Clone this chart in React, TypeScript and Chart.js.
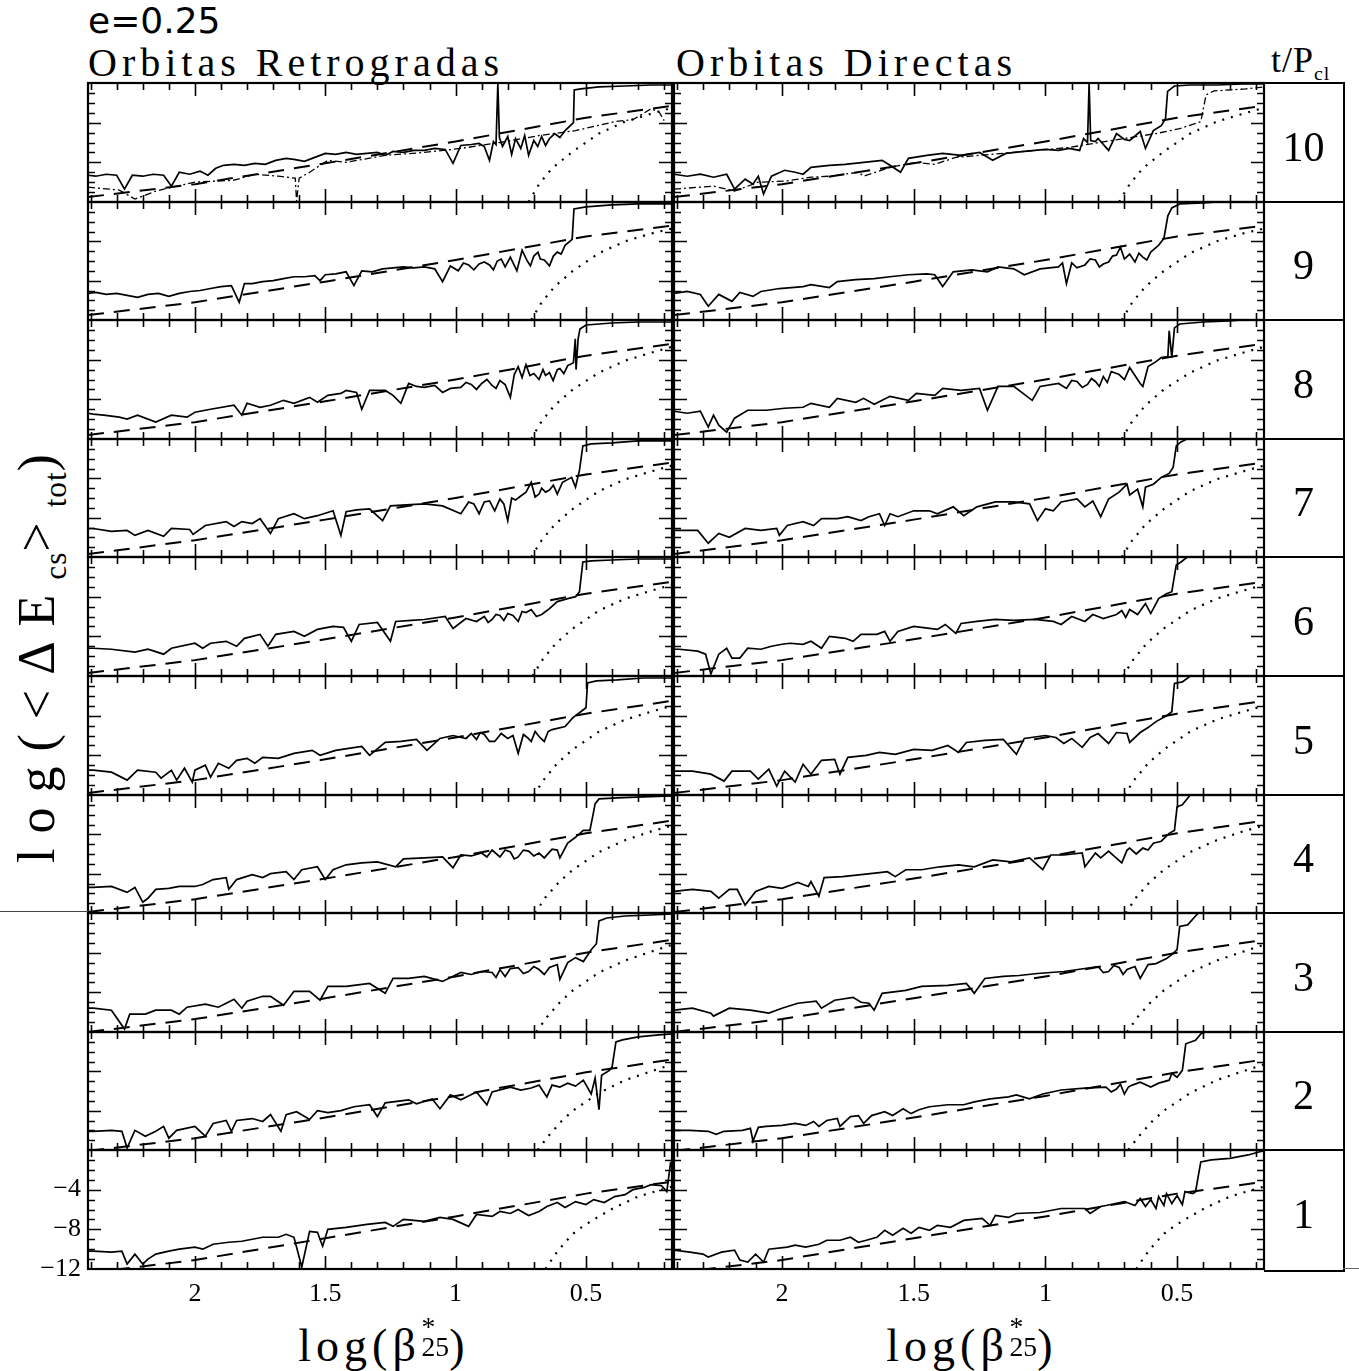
import React, { useEffect, useRef } from "react";
import { Chart, registerables } from "chart.js";

Chart.register(...registerables);

type Pt = [number, number];

// ---------- axes ----------
const X_RANGE: [number, number] = [0.17, 2.41];
const Y_RANGE: [number, number] = [-12, 0];
const X_TICK_LABELS = [2, 1.5, 1, 0.5];
const Y_TICK_LABELS = [-4, -8, -12];
const ROW_LABELS = ["10", "9", "8", "7", "6", "5", "4", "3", "2", "1"];

// ---------- dashed reference curve (per row, t/P = 10 ... 1) ----------
const DASH_X = [2.41, 2.0, 1.5, 1.0, 0.5, 0.17];
const DASH_Y: number[][] = [
  [-11.5, -10.2, -8.1, -5.9, -3.5, -2.3],
  [-11.5, -10.2, -8.1, -5.9, -3.5, -2.4],
  [-11.6, -10.3, -8.2, -6.0, -3.6, -2.4],
  [-11.7, -10.3, -8.2, -6.0, -3.6, -2.4],
  [-11.7, -10.4, -8.3, -6.1, -3.7, -2.5],
  [-11.8, -10.5, -8.4, -6.2, -3.8, -2.5],
  [-11.9, -10.6, -8.5, -6.3, -3.9, -2.6],
  [-12.0, -10.7, -8.6, -6.4, -4.0, -2.7],
  [-12.1, -10.8, -8.7, -6.5, -4.1, -2.8],
  [-12.4, -11.1, -8.9, -6.7, -4.4, -3.2],
];

// ---------- dotted curve (per row) ----------
const DOTTED: Pt[][] = [
  [[0.72, -12], [0.68, -10.2], [0.63, -8.6], [0.55, -6.9], [0.45, -5.1], [0.35, -3.9], [0.25, -3.1], [0.17, -2.5]],
  [[0.71, -12], [0.67, -10.2], [0.62, -8.6], [0.55, -7.0], [0.45, -5.2], [0.35, -4.0], [0.25, -3.2], [0.17, -2.7]],
  [[0.71, -12], [0.67, -10.2], [0.62, -8.6], [0.55, -7.0], [0.45, -5.3], [0.35, -4.1], [0.25, -3.3], [0.17, -2.7]],
  [[0.71, -12], [0.67, -10.3], [0.62, -8.7], [0.55, -7.1], [0.45, -5.3], [0.35, -4.1], [0.25, -3.3], [0.17, -2.7]],
  [[0.705, -12], [0.665, -10.3], [0.615, -8.7], [0.55, -7.2], [0.45, -5.4], [0.35, -4.2], [0.25, -3.4], [0.17, -2.8]],
  [[0.70, -12], [0.66, -10.4], [0.61, -8.8], [0.55, -7.4], [0.45, -5.6], [0.35, -4.4], [0.25, -3.6], [0.17, -3.0]],
  [[0.695, -12], [0.655, -10.4], [0.605, -8.9], [0.55, -7.6], [0.45, -5.8], [0.35, -4.6], [0.25, -3.7], [0.17, -3.1]],
  [[0.69, -12], [0.65, -10.5], [0.60, -9.0], [0.55, -7.8], [0.45, -6.0], [0.35, -4.8], [0.25, -3.9], [0.17, -3.2]],
  [[0.685, -12], [0.645, -10.6], [0.595, -9.1], [0.55, -8.0], [0.45, -6.2], [0.35, -4.9], [0.25, -4.0], [0.17, -3.3]],
  [[0.655, -12], [0.62, -10.6], [0.58, -9.3], [0.54, -8.2], [0.47, -7.0], [0.39, -5.8], [0.30, -4.7], [0.25, -4.3], [0.17, -3.7]],
];

// ---------- Orbitas Retrogradas (solid) ----------
const R10: Pt[] = [[2.41,-9.3],[2.38,-9.4],[2.34,-9.2],[2.30,-9.3],[2.27,-10.7],[2.24,-9.3],[2.20,-9.4],[2.16,-9.2],[2.12,-9.3],[2.09,-10.4],[2.06,-9.0],[2.02,-9.2],[1.98,-8.9],[1.95,-9.3],[1.92,-8.6],[1.89,-8.3],[1.85,-8.2],[1.81,-8.3],[1.77,-8.1],[1.73,-8.2],[1.69,-7.8],[1.65,-7.6],[1.62,-7.7],[1.58,-7.9],[1.54,-7.5],[1.50,-7.1],[1.46,-7.2],[1.42,-7.0],[1.38,-7.2],[1.34,-7.1],[1.30,-7.0],[1.27,-7.3],[1.24,-6.9],[1.20,-7.0],[1.16,-6.8],[1.12,-6.8],[1.08,-6.6],[1.04,-6.7],[1.01,-8.1],[0.98,-6.3],[0.94,-6.2],[0.91,-6.1],[0.89,-6.4],[0.87,-7.8],[0.855,-5.9],[0.845,-6.2],[0.838,0],[0.832,-5.5],[0.82,-6.4],[0.80,-5.4],[0.785,-7.2],[0.77,-5.6],[0.75,-6.6],[0.735,-5.3],[0.72,-7.3],[0.70,-5.8],[0.685,-6.4],[0.67,-5.4],[0.655,-6.3],[0.64,-5.6],[0.62,-5.1],[0.60,-5.5],[0.58,-4.8],[0.56,-4.3],[0.548,-4.0],[0.545,-0.7],[0.52,-0.6],[0.45,-0.4],[0.35,-0.3],[0.25,-0.2],[0.17,-0.2]];
const R10B: Pt[] = [[2.41,-10.5],[2.29,-10.8],[2.23,-11.7],[2.15,-10.9],[2.07,-10.4],[2.0,-10.0],[1.85,-9.8],[1.77,-9.2],[1.68,-9.4],[1.615,-9.6],[1.61,-11.9],[1.60,-9.6],[1.56,-9.0],[1.49,-7.8],[1.42,-8.0],[1.27,-7.3],[1.12,-7.0],[0.98,-6.6],[0.83,-6.0],[0.68,-5.3],[0.54,-4.8],[0.39,-3.9],[0.32,-3.7],[0.25,-2.6],[0.22,-2.9],[0.20,-3.8]];
const R9: Pt[] = [[2.41,-9.3],[2.38,-9.2],[2.34,-9.4],[2.30,-9.3],[2.26,-9.5],[2.22,-9.7],[2.18,-9.4],[2.14,-9.3],[2.10,-9.6],[2.06,-9.3],[2.02,-9.1],[1.98,-9.0],[1.94,-8.8],[1.90,-8.6],[1.86,-8.5],[1.83,-10.2],[1.81,-8.3],[1.78,-8.3],[1.74,-8.1],[1.70,-8.0],[1.66,-7.8],[1.62,-7.6],[1.58,-7.6],[1.54,-7.5],[1.52,-8.0],[1.50,-7.4],[1.46,-7.3],[1.42,-7.1],[1.39,-8.5],[1.36,-7.0],[1.32,-7.1],[1.28,-6.8],[1.24,-6.7],[1.20,-6.6],[1.16,-6.7],[1.12,-6.6],[1.08,-6.8],[1.05,-8.1],[1.02,-6.5],[0.99,-7.0],[0.97,-6.2],[0.95,-6.4],[0.93,-6.9],[0.91,-6.3],[0.89,-6.1],[0.87,-6.4],[0.855,-6.9],[0.84,-6.0],[0.825,-5.8],[0.81,-6.6],[0.79,-5.6],[0.765,-7.0],[0.745,-4.9],[0.725,-6.0],[0.713,-6.5],[0.70,-5.5],[0.684,-5.1],[0.675,-5.8],[0.66,-5.9],[0.64,-6.5],[0.625,-5.5],[0.61,-5.1],[0.595,-5.3],[0.58,-4.4],[0.553,-3.8],[0.546,-0.7],[0.50,-0.5],[0.40,-0.3],[0.30,-0.2],[0.17,-0.2]];
const R8: Pt[] = [[2.41,-9.4],[2.39,-9.5],[2.35,-9.6],[2.29,-9.8],[2.26,-10.0],[2.22,-9.6],[2.15,-10.3],[2.09,-9.6],[2.03,-9.8],[2.0,-9.3],[1.94,-9.0],[1.85,-8.6],[1.82,-9.6],[1.80,-8.4],[1.75,-8.8],[1.71,-8.6],[1.66,-8.1],[1.62,-8.4],[1.56,-7.8],[1.53,-8.3],[1.49,-7.6],[1.44,-7.4],[1.42,-7.1],[1.38,-7.3],[1.36,-9.0],[1.33,-7.1],[1.27,-7.1],[1.24,-7.6],[1.21,-8.4],[1.18,-6.4],[1.15,-6.7],[1.12,-6.8],[1.08,-6.6],[1.05,-7.3],[1.02,-6.9],[0.98,-6.8],[0.96,-6.3],[0.94,-6.5],[0.92,-7.0],[0.90,-6.4],[0.88,-6.0],[0.86,-6.6],[0.845,-6.9],[0.83,-6.1],[0.81,-6.5],[0.79,-7.8],[0.775,-5.5],[0.76,-4.7],[0.745,-5.8],[0.73,-4.5],[0.715,-5.6],[0.70,-5.4],[0.68,-6.0],[0.665,-5.0],[0.655,-5.6],[0.64,-5.3],[0.626,-6.1],[0.61,-5.0],[0.60,-4.9],[0.585,-5.4],[0.57,-4.6],[0.548,-4.3],[0.541,-1.9],[0.538,-5.0],[0.53,-1.9],[0.523,-0.9],[0.50,-0.5],[0.40,-0.3],[0.30,-0.2],[0.17,-0.2]];
const R7: Pt[] = [[2.41,-9.1],[2.39,-9.1],[2.32,-9.4],[2.26,-9.3],[2.23,-9.8],[2.18,-9.3],[2.12,-9.9],[2.09,-9.1],[2.02,-9.2],[2.007,-9.7],[1.96,-8.8],[1.88,-8.4],[1.85,-8.9],[1.82,-8.4],[1.78,-8.6],[1.75,-8.1],[1.71,-9.6],[1.68,-8.1],[1.62,-7.6],[1.58,-8.1],[1.53,-7.8],[1.47,-7.3],[1.44,-9.8],[1.42,-7.4],[1.38,-7.2],[1.33,-7.1],[1.28,-8.3],[1.25,-6.8],[1.19,-6.7],[1.12,-6.6],[1.05,-6.8],[0.98,-7.6],[0.95,-6.4],[0.93,-6.6],[0.91,-7.6],[0.89,-6.4],[0.87,-6.3],[0.85,-7.3],[0.83,-6.1],[0.815,-6.6],[0.80,-8.3],[0.785,-6.0],[0.77,-6.2],[0.75,-5.8],[0.73,-5.4],[0.71,-4.4],[0.695,-5.9],[0.68,-5.6],[0.67,-5.0],[0.655,-5.4],[0.64,-5.2],[0.625,-4.7],[0.61,-5.6],[0.59,-4.4],[0.555,-3.9],[0.54,-4.9],[0.525,-3.2],[0.512,-0.7],[0.48,-0.5],[0.40,-0.4],[0.30,-0.2],[0.17,-0.2]];
const R6: Pt[] = [[2.41,-9.2],[2.39,-9.2],[2.32,-9.3],[2.23,-9.6],[2.18,-9.3],[2.12,-9.8],[2.09,-9.2],[2.0,-8.7],[1.97,-9.2],[1.94,-8.7],[1.88,-8.5],[1.84,-9.0],[1.81,-8.2],[1.75,-7.8],[1.72,-9.0],[1.69,-7.8],[1.62,-7.5],[1.58,-8.0],[1.53,-7.3],[1.47,-7.0],[1.43,-7.1],[1.40,-8.5],[1.37,-6.8],[1.30,-6.6],[1.25,-8.5],[1.23,-6.5],[1.17,-6.4],[1.12,-6.3],[1.04,-6.0],[1.01,-7.2],[0.96,-6.2],[0.92,-6.5],[0.89,-6.0],[0.875,-6.6],[0.86,-6.3],[0.845,-5.8],[0.83,-5.9],[0.815,-6.4],[0.80,-5.7],[0.78,-5.9],[0.76,-6.5],[0.745,-5.5],[0.73,-5.6],[0.71,-5.3],[0.69,-6.0],[0.67,-5.8],[0.64,-5.2],[0.61,-4.5],[0.57,-4.2],[0.54,-4.0],[0.525,-3.5],[0.512,-0.5],[0.48,-0.4],[0.40,-0.3],[0.30,-0.2],[0.17,-0.2]];
const R5: Pt[] = [[2.41,-9.5],[2.39,-9.5],[2.32,-9.7],[2.26,-10.5],[2.22,-9.5],[2.15,-9.7],[2.13,-10.3],[2.09,-9.5],[2.07,-10.5],[2.04,-9.3],[2.01,-10.7],[2.0,-9.5],[1.96,-9.0],[1.94,-10.2],[1.91,-8.8],[1.87,-9.3],[1.84,-8.5],[1.80,-8.3],[1.77,-8.8],[1.74,-8.2],[1.68,-8.3],[1.62,-7.8],[1.55,-7.5],[1.52,-8.0],[1.46,-7.5],[1.41,-7.3],[1.36,-7.1],[1.33,-8.0],[1.27,-6.7],[1.21,-6.6],[1.15,-6.4],[1.11,-7.5],[1.06,-6.3],[1.01,-6.0],[0.96,-6.3],[0.94,-5.8],[0.92,-6.4],[0.905,-5.7],[0.89,-5.9],[0.87,-6.6],[0.85,-6.6],[0.825,-5.8],[0.80,-6.3],[0.78,-6.0],[0.76,-7.8],[0.74,-5.9],[0.725,-6.2],[0.71,-6.6],[0.695,-5.6],[0.68,-6.1],[0.66,-6.6],[0.645,-5.6],[0.63,-5.4],[0.58,-5.1],[0.55,-4.2],[0.52,-3.6],[0.50,-3.2],[0.494,-0.7],[0.46,-0.5],[0.38,-0.4],[0.28,-0.2],[0.17,-0.2]];
const R4: Pt[] = [[2.41,-9.4],[2.39,-9.4],[2.32,-9.3],[2.26,-9.9],[2.23,-9.4],[2.20,-10.9],[2.18,-10.5],[2.15,-9.6],[2.10,-9.5],[2.06,-9.3],[2.0,-9.3],[1.97,-9.1],[1.93,-8.6],[1.88,-8.4],[1.87,-9.6],[1.84,-8.6],[1.78,-8.1],[1.74,-8.4],[1.71,-8.0],[1.65,-7.8],[1.62,-8.6],[1.59,-7.6],[1.53,-7.3],[1.50,-8.6],[1.47,-7.6],[1.42,-7.1],[1.36,-6.9],[1.30,-6.8],[1.23,-7.3],[1.20,-6.5],[1.12,-6.4],[1.05,-6.3],[1.01,-7.4],[0.98,-6.1],[0.94,-6.2],[0.90,-5.9],[0.88,-6.3],[0.86,-5.6],[0.83,-6.3],[0.81,-5.6],[0.79,-5.8],[0.775,-6.5],[0.76,-6.3],[0.74,-5.6],[0.72,-5.7],[0.70,-6.2],[0.68,-5.9],[0.66,-6.4],[0.63,-5.5],[0.61,-5.6],[0.60,-6.4],[0.57,-4.9],[0.54,-4.3],[0.51,-3.6],[0.485,-3.6],[0.472,-1.9],[0.465,-0.9],[0.45,-0.4],[0.38,-0.3],[0.28,-0.2],[0.17,-0.1]];
const R3: Pt[] = [[2.41,-9.6],[2.39,-9.6],[2.32,-9.8],[2.27,-11.7],[2.25,-10.2],[2.19,-10.2],[2.15,-9.8],[2.09,-9.8],[2.06,-10.2],[2.03,-9.5],[1.96,-9.2],[1.91,-9.5],[1.88,-9.1],[1.85,-8.7],[1.82,-9.6],[1.80,-8.9],[1.74,-8.4],[1.71,-8.4],[1.66,-9.3],[1.62,-7.9],[1.56,-7.9],[1.52,-8.8],[1.49,-7.4],[1.42,-7.4],[1.33,-7.1],[1.27,-8.1],[1.24,-6.6],[1.18,-6.6],[1.12,-6.4],[1.05,-6.9],[0.98,-6.0],[0.94,-6.2],[0.90,-5.9],[0.86,-6.0],[0.845,-6.5],[0.83,-5.7],[0.81,-6.4],[0.79,-5.6],[0.76,-5.5],[0.74,-6.1],[0.72,-5.9],[0.70,-5.4],[0.68,-5.7],[0.66,-6.2],[0.64,-5.5],[0.61,-5.2],[0.60,-6.7],[0.57,-5.0],[0.54,-4.5],[0.51,-4.9],[0.48,-3.7],[0.46,-3.1],[0.45,-0.8],[0.42,-0.5],[0.35,-0.3],[0.25,-0.2],[0.17,-0.1]];
const R2: Pt[] = [[2.41,-10.1],[2.39,-10.1],[2.32,-10.0],[2.28,-10.1],[2.26,-11.8],[2.23,-10.0],[2.19,-10.6],[2.15,-10.1],[2.12,-9.6],[2.10,-10.8],[2.07,-10.0],[2.0,-9.6],[1.96,-10.6],[1.93,-9.3],[1.88,-9.0],[1.86,-10.1],[1.84,-9.0],[1.78,-8.8],[1.74,-9.1],[1.71,-8.4],[1.67,-10.1],[1.65,-8.4],[1.61,-8.1],[1.56,-8.9],[1.53,-8.0],[1.49,-8.2],[1.44,-8.0],[1.39,-7.6],[1.33,-7.4],[1.30,-8.6],[1.27,-7.2],[1.18,-6.9],[1.15,-7.3],[1.09,-6.8],[1.06,-7.8],[1.02,-6.4],[0.98,-6.9],[0.92,-6.1],[0.88,-7.4],[0.86,-6.1],[0.79,-5.6],[0.75,-5.9],[0.71,-5.7],[0.68,-5.4],[0.65,-6.6],[0.63,-5.4],[0.60,-5.6],[0.57,-5.2],[0.54,-5.5],[0.51,-4.9],[0.48,-6.3],[0.465,-4.7],[0.45,-7.9],[0.44,-4.4],[0.41,-3.9],[0.40,-3.6],[0.385,-1.0],[0.36,-0.8],[0.30,-0.5],[0.22,-0.3],[0.17,-0.2]];
const R1: Pt[] = [[2.41,-10.2],[2.39,-10.2],[2.32,-10.3],[2.28,-10.2],[2.26,-11.5],[2.23,-10.5],[2.20,-11.5],[2.18,-11.0],[2.15,-10.5],[2.10,-10.2],[2.06,-10.0],[2.0,-9.8],[1.97,-10.0],[1.93,-9.5],[1.87,-9.3],[1.82,-9.2],[1.78,-9.0],[1.74,-8.8],[1.68,-8.8],[1.65,-8.5],[1.62,-8.8],[1.59,-11.8],[1.56,-8.2],[1.53,-8.3],[1.51,-9.7],[1.49,-8.0],[1.42,-7.8],[1.34,-7.5],[1.27,-7.3],[1.24,-7.7],[1.20,-7.0],[1.12,-7.2],[1.06,-6.8],[1.01,-7.0],[0.95,-7.7],[0.92,-6.5],[0.86,-6.7],[0.83,-6.2],[0.79,-6.4],[0.76,-6.0],[0.72,-6.6],[0.68,-6.2],[0.65,-5.7],[0.61,-5.3],[0.58,-5.8],[0.54,-5.2],[0.50,-5.5],[0.47,-5.0],[0.43,-5.3],[0.39,-4.7],[0.35,-4.5],[0.32,-4.0],[0.28,-3.8],[0.25,-3.5],[0.21,-3.6],[0.19,-4.2],[0.175,-1.2]];

// ---------- Orbitas Directas (solid) ----------
const D10: Pt[] = [[2.41,-9.2],[2.36,-9.4],[2.31,-9.2],[2.26,-9.5],[2.21,-9.2],[2.18,-10.7],[2.14,-9.7],[2.11,-10.2],[2.09,-9.4],[2.07,-11.2],[2.04,-9.4],[1.99,-8.8],[1.95,-9.0],[1.92,-9.2],[1.89,-8.5],[1.82,-8.3],[1.76,-8.2],[1.69,-8.0],[1.62,-7.8],[1.59,-8.3],[1.55,-9.0],[1.52,-7.6],[1.45,-7.3],[1.39,-7.1],[1.32,-7.3],[1.25,-7.0],[1.20,-7.8],[1.15,-7.1],[1.08,-6.9],[1.00,-6.7],[0.95,-6.8],[0.91,-6.6],[0.87,-6.8],[0.855,-5.6],[0.84,-6.0],[0.834,0],[0.828,-5.8],[0.81,-5.9],[0.80,-5.6],[0.76,-6.8],[0.73,-5.1],[0.70,-5.7],[0.68,-5.8],[0.64,-4.9],[0.62,-6.6],[0.59,-4.8],[0.56,-4.3],[0.544,-3.6],[0.536,-0.85],[0.51,-0.3],[0.45,-0.2],[0.35,-0.2],[0.25,-0.1],[0.17,-0.1]];
const D10B: Pt[] = [[2.41,-10.7],[2.26,-10.4],[2.18,-10.9],[2.09,-10.0],[1.99,-9.9],[1.89,-9.5],[1.82,-9.4],[1.71,-9.0],[1.69,-9.4],[1.59,-8.5],[1.49,-8.0],[1.42,-8.2],[1.34,-7.5],[1.25,-7.3],[1.08,-6.9],[0.91,-6.5],[0.75,-5.8],[0.58,-5.1],[0.49,-4.6],[0.41,-3.9],[0.39,-1.2],[0.36,-0.8],[0.24,-0.6],[0.17,-0.4]];
const D9: Pt[] = [[2.41,-9.3],[2.36,-9.1],[2.31,-9.4],[2.28,-10.6],[2.24,-9.4],[2.19,-10.1],[2.16,-9.2],[2.11,-9.6],[2.08,-9.1],[2.01,-8.8],[1.92,-8.6],[1.89,-8.4],[1.82,-8.7],[1.79,-8.1],[1.72,-7.9],[1.65,-7.8],[1.59,-7.6],[1.52,-7.4],[1.45,-7.3],[1.42,-7.4],[1.39,-8.6],[1.35,-7.1],[1.28,-6.9],[1.22,-7.1],[1.18,-6.6],[1.12,-6.8],[1.08,-7.4],[1.02,-6.8],[0.95,-6.6],[0.935,-6.2],[0.92,-8.3],[0.90,-6.2],[0.88,-6.7],[0.85,-6.4],[0.83,-5.8],[0.81,-5.9],[0.795,-6.6],[0.78,-6.3],[0.76,-6.1],[0.745,-5.5],[0.73,-5.4],[0.715,-4.6],[0.70,-5.8],[0.68,-5.3],[0.66,-6.1],[0.645,-5.2],[0.63,-5.6],[0.615,-5.9],[0.60,-5.1],[0.57,-4.4],[0.55,-3.7],[0.535,-1.4],[0.52,-0.6],[0.49,-0.2],[0.40,-0.1],[0.30,0.1],[0.17,0.2]];
const D8: Pt[] = [[2.41,-9.2],[2.36,-9.4],[2.31,-9.2],[2.28,-10.8],[2.26,-9.6],[2.24,-10.6],[2.21,-11.3],[2.18,-9.9],[2.13,-9.1],[2.06,-9.1],[1.99,-8.9],[1.92,-8.8],[1.89,-8.4],[1.82,-8.8],[1.79,-7.9],[1.72,-8.3],[1.69,-7.9],[1.65,-8.5],[1.59,-7.7],[1.52,-8.1],[1.49,-7.4],[1.42,-7.6],[1.39,-6.9],[1.32,-7.1],[1.25,-6.9],[1.22,-9.1],[1.18,-6.7],[1.12,-6.7],[1.05,-8.1],[1.02,-6.7],[0.95,-6.4],[0.92,-6.9],[0.90,-6.1],[0.88,-6.2],[0.86,-6.8],[0.84,-6.5],[0.825,-5.9],[0.81,-6.2],[0.795,-6.7],[0.78,-5.7],[0.765,-6.3],[0.75,-5.2],[0.72,-5.5],[0.70,-6.0],[0.68,-4.8],[0.66,-5.6],[0.64,-6.4],[0.63,-6.7],[0.61,-4.7],[0.58,-4.2],[0.56,-3.8],[0.535,-3.7],[0.53,-1.1],[0.52,-3.8],[0.51,-0.8],[0.49,-0.4],[0.40,-0.2],[0.30,-0.1],[0.17,0.2]];
const D7: Pt[] = [[2.41,-9.3],[2.39,-9.3],[2.32,-9.3],[2.28,-10.6],[2.24,-9.6],[2.20,-10.0],[2.14,-9.1],[2.08,-9.3],[2.02,-9.1],[2.01,-9.8],[1.98,-8.8],[1.92,-8.4],[1.88,-8.8],[1.85,-8.1],[1.79,-8.1],[1.75,-7.9],[1.70,-8.3],[1.67,-7.9],[1.63,-7.6],[1.61,-8.8],[1.59,-7.6],[1.56,-7.9],[1.50,-7.3],[1.44,-7.3],[1.41,-7.6],[1.35,-6.9],[1.31,-7.8],[1.26,-6.9],[1.19,-6.4],[1.12,-6.4],[1.06,-6.6],[1.03,-8.3],[1.00,-7.1],[0.97,-7.3],[0.94,-6.4],[0.88,-6.1],[0.85,-6.9],[0.82,-6.3],[0.79,-7.9],[0.76,-6.1],[0.72,-5.4],[0.69,-4.6],[0.68,-5.7],[0.65,-5.1],[0.63,-6.9],[0.62,-4.9],[0.59,-4.6],[0.56,-3.9],[0.53,-3.5],[0.515,-2.9],[0.503,-0.7],[0.485,-0.3],[0.456,0.1],[0.40,0.5]];
const D6: Pt[] = [[2.41,-9.3],[2.39,-9.3],[2.32,-9.5],[2.29,-9.8],[2.27,-11.8],[2.24,-9.8],[2.21,-9.2],[2.19,-10.2],[2.16,-10.2],[2.13,-9.2],[2.08,-9.3],[2.04,-9.0],[2.0,-8.8],[1.97,-8.7],[1.92,-8.8],[1.89,-8.5],[1.85,-9.2],[1.82,-8.0],[1.76,-8.2],[1.73,-8.5],[1.70,-7.8],[1.64,-7.8],[1.61,-7.5],[1.59,-8.5],[1.56,-7.5],[1.50,-7.0],[1.41,-7.3],[1.38,-6.8],[1.34,-7.7],[1.32,-6.7],[1.26,-6.5],[1.19,-6.3],[1.12,-6.4],[1.04,-6.3],[0.97,-6.5],[0.94,-6.8],[0.90,-6.0],[0.85,-6.5],[0.82,-5.8],[0.78,-6.2],[0.73,-5.8],[0.71,-5.4],[0.695,-6.1],[0.68,-5.3],[0.65,-5.8],[0.62,-4.7],[0.60,-5.7],[0.57,-4.2],[0.54,-3.7],[0.52,-3.5],[0.503,-0.8],[0.485,-0.5],[0.456,0.1],[0.40,0.5]];
const D5: Pt[] = [[2.41,-9.6],[2.34,-9.6],[2.27,-9.9],[2.22,-10.6],[2.19,-9.6],[2.12,-9.6],[2.09,-10.4],[2.05,-9.4],[2.02,-11.1],[1.99,-9.6],[1.95,-10.7],[1.92,-8.9],[1.89,-9.9],[1.85,-8.5],[1.80,-8.4],[1.78,-9.9],[1.75,-8.2],[1.68,-8.0],[1.63,-7.7],[1.57,-7.9],[1.50,-7.4],[1.43,-7.5],[1.37,-7.0],[1.33,-7.7],[1.30,-6.7],[1.23,-6.5],[1.16,-6.4],[1.11,-7.9],[1.08,-6.3],[1.0,-6.0],[0.96,-6.2],[0.93,-6.8],[0.90,-6.3],[0.86,-7.2],[0.83,-6.2],[0.80,-5.8],[0.76,-6.8],[0.73,-5.7],[0.69,-5.8],[0.68,-6.7],[0.64,-5.7],[0.61,-5.2],[0.58,-4.6],[0.54,-4.0],[0.52,-3.6],[0.51,-0.75],[0.48,-0.6],[0.45,0.0],[0.40,0.5]];
const D4: Pt[] = [[2.41,-9.8],[2.34,-9.6],[2.27,-9.8],[2.24,-10.5],[2.20,-9.6],[2.17,-9.6],[2.14,-11.2],[2.10,-9.8],[2.05,-9.3],[2.0,-9.5],[1.94,-8.9],[1.90,-9.3],[1.89,-8.8],[1.86,-10.3],[1.84,-8.4],[1.77,-8.3],[1.70,-8.1],[1.63,-7.9],[1.60,-7.8],[1.57,-8.3],[1.53,-7.6],[1.47,-7.6],[1.40,-7.3],[1.33,-7.1],[1.27,-7.3],[1.20,-6.6],[1.13,-6.8],[1.06,-6.4],[1.01,-7.6],[0.98,-6.1],[0.93,-6.1],[0.86,-5.9],[0.85,-7.3],[0.81,-5.9],[0.79,-6.4],[0.76,-5.7],[0.74,-6.2],[0.71,-6.9],[0.69,-5.6],[0.68,-5.4],[0.655,-6.0],[0.63,-5.4],[0.61,-5.6],[0.59,-4.9],[0.56,-4.7],[0.53,-3.9],[0.51,-3.6],[0.50,-1.2],[0.48,-1.0],[0.45,0.0],[0.40,0.5]];
const D3: Pt[] = [[2.41,-9.8],[2.34,-9.6],[2.27,-10.1],[2.26,-10.4],[2.20,-9.6],[2.12,-9.8],[2.05,-10.1],[2.0,-9.6],[1.94,-9.1],[1.87,-8.9],[1.85,-9.6],[1.80,-8.8],[1.73,-8.5],[1.70,-9.0],[1.67,-9.1],[1.65,-9.8],[1.62,-8.1],[1.53,-7.8],[1.47,-7.4],[1.37,-7.3],[1.30,-7.1],[1.27,-8.1],[1.23,-6.6],[1.16,-6.4],[1.10,-6.3],[1.03,-6.1],[0.93,-5.9],[0.85,-5.6],[0.80,-5.4],[0.78,-6.0],[0.76,-5.9],[0.74,-5.3],[0.72,-5.5],[0.705,-6.2],[0.69,-5.7],[0.66,-5.4],[0.64,-6.6],[0.61,-5.2],[0.58,-5.1],[0.54,-4.6],[0.52,-4.2],[0.50,-3.7],[0.49,-1.35],[0.46,-1.2],[0.43,-0.3],[0.40,0.5]];
const D2: Pt[] = [[2.41,-10.0],[2.35,-10.0],[2.28,-10.1],[2.25,-10.4],[2.22,-10.1],[2.15,-10.0],[2.12,-9.8],[2.11,-11.1],[2.09,-9.7],[2.06,-9.6],[2.0,-9.5],[1.95,-9.3],[1.91,-9.5],[1.88,-9.1],[1.86,-9.6],[1.83,-9.0],[1.79,-8.8],[1.78,-9.6],[1.74,-8.6],[1.71,-8.5],[1.69,-9.3],[1.66,-8.5],[1.61,-8.1],[1.58,-8.5],[1.54,-7.8],[1.51,-8.3],[1.48,-7.9],[1.44,-7.6],[1.37,-7.4],[1.31,-7.4],[1.27,-7.1],[1.21,-6.8],[1.14,-6.6],[1.11,-6.4],[1.06,-6.8],[1.01,-6.3],[0.94,-5.9],[0.85,-5.7],[0.77,-5.6],[0.75,-6.1],[0.73,-5.8],[0.715,-5.3],[0.70,-6.3],[0.685,-5.6],[0.67,-5.4],[0.64,-5.1],[0.60,-5.6],[0.57,-5.2],[0.53,-4.9],[0.52,-4.2],[0.50,-4.6],[0.48,-3.9],[0.467,-1.2],[0.43,-0.85],[0.41,-0.2],[0.37,0.3]];
const D1: Pt[] = [[2.41,-10.1],[2.35,-10.3],[2.30,-10.5],[2.28,-10.8],[2.23,-10.3],[2.18,-10.1],[2.16,-11.1],[2.13,-11.3],[2.10,-10.5],[2.07,-11.3],[2.05,-10.0],[1.98,-9.8],[1.95,-9.6],[1.91,-9.8],[1.86,-9.5],[1.83,-9.1],[1.78,-9.1],[1.74,-8.8],[1.71,-9.3],[1.68,-9.1],[1.64,-8.8],[1.61,-8.1],[1.58,-8.6],[1.54,-7.9],[1.51,-8.4],[1.48,-7.8],[1.44,-8.1],[1.41,-7.6],[1.36,-7.8],[1.31,-7.1],[1.24,-6.9],[1.21,-7.6],[1.19,-6.6],[1.14,-6.8],[1.11,-6.4],[1.02,-6.3],[0.94,-5.9],[0.85,-5.9],[0.83,-6.4],[0.79,-5.7],[0.77,-5.6],[0.70,-5.2],[0.66,-5.6],[0.64,-4.9],[0.62,-5.7],[0.60,-5.0],[0.58,-5.9],[0.57,-4.7],[0.55,-5.6],[0.54,-4.4],[0.52,-5.4],[0.50,-4.6],[0.48,-5.5],[0.47,-4.2],[0.44,-4.4],[0.43,-4.2],[0.41,-1.2],[0.37,-1.0],[0.30,-0.85],[0.23,-0.5],[0.19,-0.2],[0.17,-0.1]];

const RETRO: Pt[][] = [R10, R9, R8, R7, R6, R5, R4, R3, R2, R1];
const DIRECT: Pt[][] = [D10, D9, D8, D7, D6, D5, D4, D3, D2, D1];
const RETRO_EXTRA: (Pt[] | null)[] = [R10B, null, null, null, null, null, null, null, null, null];
const DIRECT_EXTRA: (Pt[] | null)[] = [D10B, null, null, null, null, null, null, null, null, null];

// ---------- layout ----------
const ROW_TOP0 = 83;
const ROW_H = 118.6;
const rowTop = (i: number) => Math.round(ROW_TOP0 + i * ROW_H);
const COLS = [
  { left: 88, right: 672 },
  { left: 674, right: 1264 },
];
const LABEL_COL = { left: 1264, right: 1343 };
const SERIF = '"Liberation Serif", "Times New Roman", serif';

function fmt(v: number) {
  return v < 0 ? "\u2212" + String(-v) : String(v);
}

function buildDatasets(main: Pt[], extra: Pt[] | null, row: number) {
  const xy = (p: Pt[]) => p.map(([x, y]) => ({ x, y }));
  const list: any[] = [
    { data: xy(main), borderWidth: 1.7, borderDash: [] },
    { data: DASH_X.map((x, i) => ({ x, y: DASH_Y[row][i] })), borderWidth: 2, borderDash: [16, 10] },
    { data: xy(DOTTED[row]), borderWidth: 2.2, borderDash: [2, 7] },
  ];
  if (extra) list.push({ data: xy(extra), borderWidth: 1.3, borderDash: [7, 3, 2, 3] });
  return list.map((d) => ({
    ...d,
    borderColor: "#000",
    backgroundColor: "#000",
    pointRadius: 0,
    fill: false,
    tension: 0,
    clip: 0,
  }));
}

type PanelProps = {
  left: number;
  top: number;
  right: number;
  bottom: number;
  row: number;
  main: Pt[];
  extra: Pt[] | null;
  showX: boolean;
  showY: boolean;
};

function Panel({ left, top, right, bottom, row, main, extra, showX, showY }: PanelProps) {
  const ref = useRef<HTMLCanvasElement | null>(null);
  const pad = { top: 8, right: 8, bottom: showX ? 44 : 8, left: showY ? left : 8 };
  const W = right - left + pad.left + pad.right;
  const H = bottom - top + pad.top + pad.bottom;

  useEffect(() => {
    if (!ref.current) return;
    const framePlugin = {
      id: "frameTicks",
      afterDatasetsDraw(chart: any) {
        const { ctx, chartArea: a, scales } = chart;
        const x = scales.x;
        const y = scales.y;
        ctx.save();
        ctx.strokeStyle = "#000";
        ctx.fillStyle = "#000";
        ctx.lineWidth = 2.2;
        ctx.strokeRect(a.left, a.top, a.right - a.left, a.bottom - a.top);
        ctx.lineWidth = 1.6;
        ctx.beginPath();
        for (let i = 2; i <= 24; i++) {
          const px = Math.round(x.getPixelForValue(i / 10)) + 0.5;
          const L = i % 5 === 0 ? 13 : 7;
          ctx.moveTo(px, a.top);
          ctx.lineTo(px, a.top + L);
          ctx.moveTo(px, a.bottom);
          ctx.lineTo(px, a.bottom - L);
        }
        for (let v = -11; v <= -1; v++) {
          const py = Math.round(y.getPixelForValue(v)) + 0.5;
          const L = v % 4 === 0 ? 13 : 7;
          ctx.moveTo(a.left, py);
          ctx.lineTo(a.left + L, py);
          ctx.moveTo(a.right, py);
          ctx.lineTo(a.right - L, py);
        }
        ctx.stroke();
        ctx.font = `26px ${SERIF}`;
        if (showX) {
          ctx.textAlign = "center";
          ctx.textBaseline = "middle";
          X_TICK_LABELS.forEach((v) => ctx.fillText(fmt(v), x.getPixelForValue(v), a.bottom + 25));
        }
        if (showY) {
          ctx.textAlign = "right";
          ctx.textBaseline = "middle";
          Y_TICK_LABELS.forEach((v) => ctx.fillText(fmt(v), a.left - 7, y.getPixelForValue(v)));
        }
        ctx.restore();
      },
    };
    const chart = new Chart(ref.current, {
      type: "line",
      data: { datasets: buildDatasets(main, extra, row) as any },
      options: {
        animation: false,
        responsive: false,
        devicePixelRatio: 1,
        events: [],
        layout: { padding: pad },
        plugins: { legend: { display: false }, tooltip: { enabled: false }, title: { display: false } },
        scales: {
          x: { type: "linear", reverse: true, min: X_RANGE[0], max: X_RANGE[1], display: false },
          y: { type: "linear", min: Y_RANGE[0], max: Y_RANGE[1], display: false },
        },
      } as any,
      plugins: [framePlugin],
    });
    return () => chart.destroy();
  }, []);

  return (
    <canvas
      ref={ref}
      width={W}
      height={H}
      style={{ position: "absolute", left: left - pad.left, top: top - pad.top, width: W, height: H }}
    />
  );
}

function BetaLabel({ cx }: { cx: number }) {
  const fs = 46;
  return (
    <div
      style={{
        position: "absolute",
        left: cx,
        top: 1354 - 0.8375 * fs,
        transform: "translateX(-50%)",
        font: `${fs}px ${SERIF}`,
        lineHeight: 1,
        whiteSpace: "nowrap",
        letterSpacing: "5px",
      }}
    >
      log(β
      <span style={{ display: "inline-block", position: "relative", width: "0.62em", height: "1em", letterSpacing: 0 }}>
        <span style={{ position: "absolute", left: "0.02em", top: "-0.1em", fontSize: "0.6em", lineHeight: 1 }}>*</span>
        <span style={{ position: "absolute", left: "0.02em", top: "0.62em", fontSize: "0.6em", lineHeight: 1 }}>25</span>
      </span>
      )
    </div>
  );
}

export default function App() {
  const bottomAll = rowTop(10);
  const panels: React.ReactNode[] = [];
  for (let r = 0; r < 10; r++) {
    const top = rowTop(r);
    const bottom = r === 9 ? 1269 : rowTop(r + 1);
    [0, 1].forEach((c) => {
      panels.push(
        <Panel
          key={`${r}-${c}`}
          left={COLS[c].left}
          right={COLS[c].right}
          top={top}
          bottom={bottom}
          row={r}
          main={c === 0 ? RETRO[r] : DIRECT[r]}
          extra={c === 0 ? RETRO_EXTRA[r] : DIRECT_EXTRA[r]}
          showX={r === 9}
          showY={r === 9 && c === 0}
        />
      );
    });
  }

  const subStyle: React.CSSProperties = { fontSize: "0.6em", position: "relative", top: "0.4em", letterSpacing: "1px" };

  return (
    <div style={{ position: "absolute", left: 0, top: 0, width: 1359, height: 1371, background: "#fff", color: "#000", overflow: "hidden" }}>
      {/* titles */}
      <div style={{ position: "absolute", left: 88, top: 33 - 0.846 * 36, font: '36px "DejaVu Sans", sans-serif', lineHeight: 1, whiteSpace: "nowrap" }}>
        e=0.25
      </div>
      <div style={{ position: "absolute", left: 88, top: 76 - 0.8375 * 40, font: `40px ${SERIF}`, lineHeight: 1, letterSpacing: "5px", whiteSpace: "nowrap" }}>
        Orbitas Retrogradas
      </div>
      <div style={{ position: "absolute", left: 676, top: 76 - 0.8375 * 40, font: `40px ${SERIF}`, lineHeight: 1, letterSpacing: "5px", whiteSpace: "nowrap" }}>
        Orbitas Directas
      </div>
      <div style={{ position: "absolute", left: 1271, top: 72 - 0.8375 * 36, font: `36px ${SERIF}`, lineHeight: 1, whiteSpace: "nowrap", letterSpacing: "1px" }}>
        t/P
        <span style={{ fontSize: "0.55em", position: "relative", top: "0.4em" }}>cl</span>
      </div>

      {/* y axis title */}
      <div
        style={{
          position: "absolute",
          left: 37,
          top: 651,
          transform: "translate(-50%, -50%) rotate(-90deg)",
          font: `52px ${SERIF}`,
          lineHeight: 1,
          whiteSpace: "nowrap",
          letterSpacing: "15px",
        }}
      >
        log({"<"}ΔE
        <span style={subStyle}>cs</span>
        {">"}
        <span style={subStyle}>tot</span>)
      </div>

      {panels}

      {/* right label column */}
      {ROW_LABELS.map((lab, r) => {
        const top = rowTop(r);
        const bottom = r === 9 ? 1269 : rowTop(r + 1);
        return (
          <div
            key={lab}
            style={{
              position: "absolute",
              left: LABEL_COL.left,
              top: top - 1,
              width: LABEL_COL.right - LABEL_COL.left,
              height: bottom - top,
              borderTop: "2px solid #000",
              borderRight: "2px solid #000",
              borderBottom: r === 9 ? "2px solid #000" : "none",
              boxSizing: "content-box",
              display: "flex",
              alignItems: "center",
              justifyContent: "center",
              font: `42px ${SERIF}`,
              lineHeight: 1,
            }}
          >
            <span style={{ position: "relative", top: 3 }}>{lab}</span>
          </div>
        );
      })}

      {/* x axis titles */}
      <BetaLabel cx={384} />
      <BetaLabel cx={972} />

      {/* scan artefact lines */}
      <div style={{ position: "absolute", left: 0, top: 911, width: 88, height: 1, background: "#444" }} />
      <div style={{ position: "absolute", left: LABEL_COL.right, top: bottomAll - 1, width: 1359 - LABEL_COL.right, height: 1, background: "#666" }} />
    </div>
  );
}
